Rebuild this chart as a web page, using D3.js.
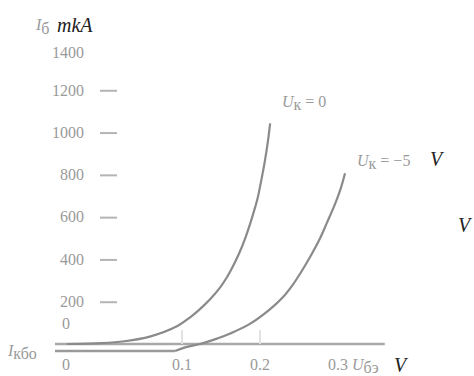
<!DOCTYPE html>
<html>
<head>
<meta charset="utf-8">
<script src="https://cdn.jsdelivr.net/npm/d3@7"></script>
<style>
  body { margin: 0; background: #fff; }
  .tick-lbl { fill: #9a9a9a; font-size: 16px; }
  .ital { font-style: italic; fill: #222; font-size: 20px; }
</style>
</head>
<body>
<div class="chart"></div>
<script>
// base current vs base-emitter voltage
const uk0U = [0, 0.03, 0.05, 0.072, 0.096, 0.110, 0.123, 0.136, 0.149, 0.158, 0.165, 0.174, 0.181, 0.187, 0.194, 0.197, 0.203, 0.206, 0.210, 0.213];
const uk0I = [0, 4, 13, 35, 85, 125, 165, 212, 268, 318, 365, 435, 500, 565, 650, 690, 800, 860, 955, 1044];

const uk5U = [-0.01, 0.094, 0.104, 0.123, 0.142, 0.162, 0.187, 0.213, 0.229, 0.242, 0.251, 0.264, 0.277, 0.286, 0.296, 0.303, 0.309];
const uk5I = [-33, -33, -16, 0, 22, 50, 95, 165, 220, 280, 330, 410, 500, 575, 660, 730, 808];

const yTicks = [200, 400, 600, 800, 1000, 1200];
const xTicks = [0.1, 0.2];
const xTickLabels = ['0', '0.1', '0.2', '0.3'];
const xLabelVals = [0, 0.1, 0.2, 0.3];

const W = 474, H = 376;
const serif = '"Liberation Serif", "DejaVu Serif", serif';

const svg = d3.select('.chart')
    .append('svg')
    .attr('width', W)
    .attr('height', H)
    .style('font-family', serif);

// the printed axis is squeezed between 0 and 0.1
const x = d3.scaleLinear()
    .domain([0, 0.1, 0.2, 0.3])
    .range([67, 182, 260, 338]);

const y = d3.scaleLinear()
    .domain([0, 1400])
    .range([344, 48]);

// y ticks: short dashes away from the labels
const yAxis = svg.append('g')
    .attr('transform', 'translate(117,0)')
    .call(d3.axisLeft(y).tickValues(yTicks).tickFormat(d3.format('d')).tickSize(17).tickPadding(16));
yAxis.attr('font-family', null).attr('font-size', null);
yAxis.select('.domain').remove();
yAxis.selectAll('line').attr('stroke', '#b4b4b4').attr('stroke-width', 2);
yAxis.selectAll('text').attr('class', 'tick-lbl').attr('fill', null).attr('dy', '0.3em');

svg.append('text').attr('class', 'tick-lbl')
    .attr('x', 84).attr('y', y(1400) + 10)
    .attr('text-anchor', 'end').text('1400');
svg.append('text').attr('class', 'tick-lbl')
    .attr('x', 66).attr('y', y(0) - 15)
    .attr('text-anchor', 'middle').text('0');

// x axis
svg.append('line')
    .attr('x1', x(0) - 12).attr('x2', x(0.36))
    .attr('y1', y(0)).attr('y2', y(0))
    .attr('stroke', '#a8a8a8').attr('stroke-width', 2.5);

svg.selectAll('.xtick')
    .data(xTicks)
    .enter().append('line')
    .attr('class', 'xtick')
    .attr('x1', d => x(d)).attr('x2', d => x(d))
    .attr('y1', y(0)).attr('y2', y(0) - 14)
    .attr('stroke', '#e2e2e2').attr('stroke-width', 2);

svg.selectAll('.xlbl')
    .data(xLabelVals)
    .enter().append('text')
    .attr('class', 'tick-lbl')
    .attr('x', d => x(d) - (d === 0 ? 1 : 0))
    .attr('y', 370)
    .attr('text-anchor', 'middle')
    .text((d, i) => xTickLabels[i]);

// curves
const line = d3.line()
    .x(d => x(d[0]))
    .y(d => y(d[1]))
    .curve(d3.curveCatmullRom.alpha(0.5));

// level line of the reverse current before Uk=-5V curve rises
svg.append('line')
    .attr('x1', x(0) - 12).attr('x2', x(uk5U[1]))
    .attr('y1', y(uk5I[0])).attr('y2', y(uk5I[0]))
    .attr('stroke', '#9a9a9a').attr('stroke-width', 2.5);

svg.append('path')
    .datum(d3.zip(uk0U, uk0I))
    .attr('d', line)
    .attr('fill', 'none')
    .attr('stroke', '#8a8a8a')
    .attr('stroke-width', 2.2);

svg.append('path')
    .datum(d3.zip(uk5U, uk5I).slice(1))
    .attr('d', line)
    .attr('fill', 'none')
    .attr('stroke', '#8a8a8a')
    .attr('stroke-width', 2.2);

// labels
const yt = svg.append('text').attr('x', 36).attr('y', 30);
yt.append('tspan').attr('class', 'tick-lbl').attr('font-style', 'italic').attr('font-size', '18px').text('I');
yt.append('tspan').attr('class', 'tick-lbl').attr('font-size', '10px').attr('dy', 4).text('б');
svg.append('text').attr('class', 'ital').attr('x', 57).attr('y', 32).text('mkA');

const xt = svg.append('text').attr('x', 352).attr('y', 370);
xt.append('tspan').attr('class', 'tick-lbl').attr('font-style', 'italic').text('U');
xt.append('tspan').attr('class', 'tick-lbl').attr('font-size', '10px').attr('dy', 3).text('бэ');
svg.append('text').attr('class', 'ital').attr('x', 394).attr('y', 372).text('V');

const ik = svg.append('text').attr('x', 8).attr('y', 356);
ik.append('tspan').attr('class', 'tick-lbl').attr('font-style', 'italic').text('I');
ik.append('tspan').attr('class', 'tick-lbl').attr('font-size', '9px').attr('dy', 3).text('кбо');

const l1 = svg.append('text').attr('x', 282).attr('y', 107);
l1.append('tspan').attr('class', 'tick-lbl').attr('font-style', 'italic').text('U');
l1.append('tspan').attr('class', 'tick-lbl').attr('font-size', '9px').attr('dy', 3).text('к');
l1.append('tspan').attr('class', 'tick-lbl').attr('dy', -3).text(' = 0');

const l2 = svg.append('text').attr('x', 357).attr('y', 166);
l2.append('tspan').attr('class', 'tick-lbl').attr('font-style', 'italic').text('U');
l2.append('tspan').attr('class', 'tick-lbl').attr('font-size', '9px').attr('dy', 3).text('к');
l2.append('tspan').attr('class', 'tick-lbl').attr('dy', -3).text(' = −5');
svg.append('text').attr('class', 'ital').attr('x', 430).attr('y', 166).text('V');

svg.append('text').attr('class', 'ital').attr('x', 458).attr('y', 232).text('V');
</script>
</body>
</html>
